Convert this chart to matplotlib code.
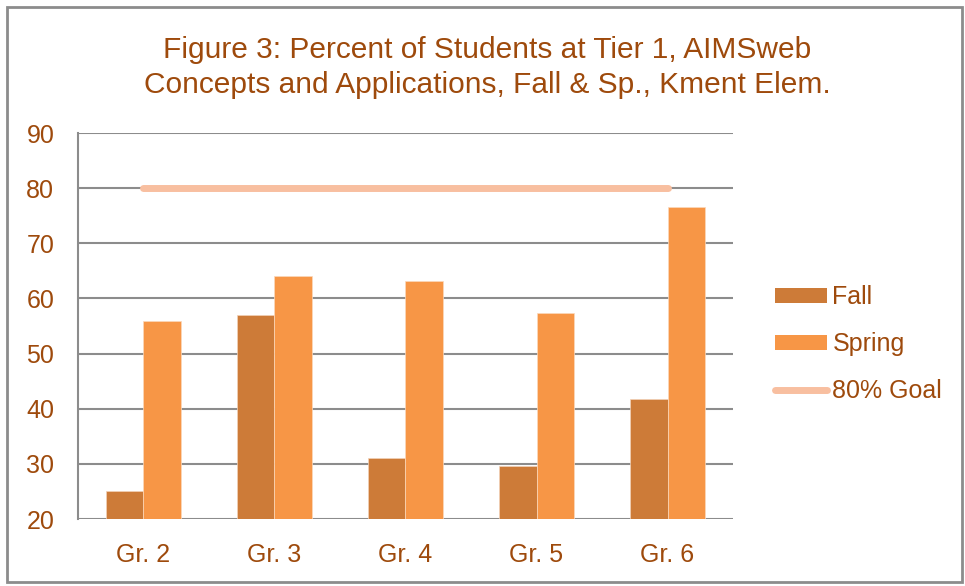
import matplotlib
matplotlib.use('Agg')
import matplotlib.pyplot as plt
from matplotlib.patches import Rectangle, Patch
from matplotlib.lines import Line2D
import numpy as np

grades = ['Gr. 2', 'Gr. 3', 'Gr. 4', 'Gr. 5', 'Gr. 6']
fall = [25, 57, 31, 29.7, 41.8]
spring = [56, 64, 63.1, 57.4, 76.6]
goal = [80, 80, 80, 80, 80]

brown = '#9E4A0C'
fallColor = '#CD7B38'
springColor = '#F79646'
goalColor = '#F8BFA0'
gridColor = '#8C8C8C'

plt.rcParams['font.family'] = ['Liberation Sans', 'DejaVu Sans']

fig = plt.figure(figsize=(9.65, 5.86), dpi=100)
ax = fig.add_axes([0.0808, 0.1143, 0.6788, 0.6587])

x = np.arange(len(grades))
w = 0.286
ax.bar(x - w/2, fall, w, bottom=0, color=fallColor, edgecolor='#F2D2B8', linewidth=0.5, zorder=3)
ax.bar(x + w/2, spring, w, bottom=0, color=springColor, edgecolor='#FBD9BC', linewidth=0.5, zorder=3)
ax.plot(x, goal, color=goalColor, linewidth=5, solid_capstyle='round', zorder=4)

ax.set_xlim(-0.5, 4.5)
ax.set_ylim(20, 90)
ax.set_yticks(range(20, 91, 10))
ax.set_xticks(x)
ax.set_xticklabels(grades)
ax.yaxis.grid(True, color=gridColor, linewidth=1.5, zorder=0)
ax.set_axisbelow(True)
for s in ['top', 'right', 'bottom']:
  ax.spines[s].set_visible(False)
ax.spines['left'].set_color(gridColor)
ax.spines['left'].set_linewidth(1.5)
ax.tick_params(axis='both', length=0, colors=brown, labelsize=18)
ax.tick_params(axis='y', pad=17)
ax.tick_params(axis='x', pad=17)

fig.text(0.505, 0.885, 'Figure 3: Percent of Students at Tier 1, AIMSweb\nConcepts and Applications, Fall & Sp., Kment Elem.',
         ha='center', va='center', fontsize=21.5, color=brown, linespacing=1.3)

handles = [Patch(facecolor=fallColor, edgecolor='none'),
           Patch(facecolor=springColor, edgecolor='none'),
           Line2D([0], [0], color=goalColor, linewidth=5, solid_capstyle='round')]
leg = fig.legend(handles, ['Fall', 'Spring', '80% Goal'], loc='center left',
                 bbox_to_anchor=(0.803, 0.413), frameon=False, fontsize=18,
                 handlelength=2.1, handleheight=0.55, handletextpad=0.2, labelspacing=0.92,
                 borderaxespad=0, borderpad=0)
for t in leg.get_texts():
  t.set_color(brown)

fig.patches.append(Rectangle((0.007, 0.006), 0.99, 0.982, transform=fig.transFigure,
                             fill=False, edgecolor=gridColor, linewidth=2))

fig.savefig('out.png', dpi=100)
